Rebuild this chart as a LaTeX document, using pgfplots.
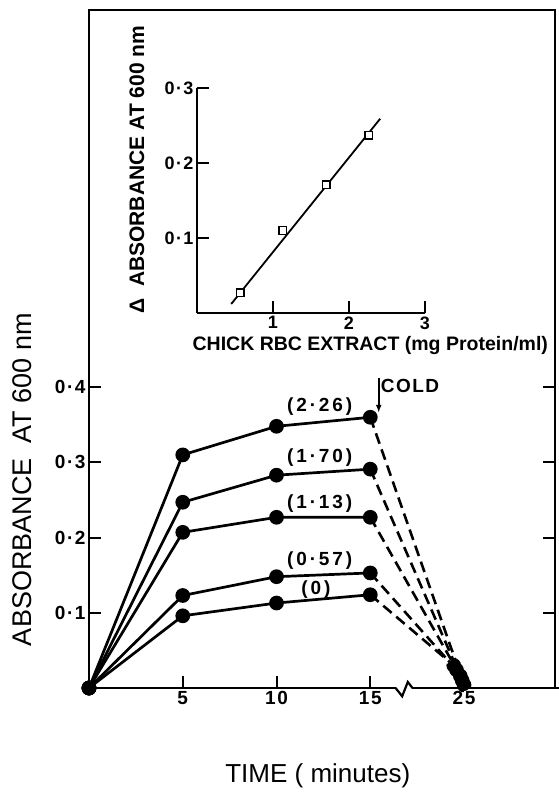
\documentclass[border=0pt]{standalone}
\usepackage{fontspec}
\setmainfont{Liberation Sans}
\newfontfamily\spc{Liberation Sans}[LetterSpace=15]
\newfontfamily\tck{Liberation Sans}[LetterSpace=8]
\usepackage{pgfplots}
\usepackage{pgfplotstable}
\pgfplotsset{compat=1.18}
\usetikzlibrary{arrows.meta}

% absorbance during incubation; time 25 min is drawn at position 20 (broken axis)
\pgfplotstableread{
t   a0    a057  a113  a170  a226
0   0     0     0     0     0
5   0.096 0.123 0.207 0.247 0.310
10  0.113 0.148 0.227 0.283 0.348
15  0.124 0.153 0.227 0.291 0.360
}\incub

\begin{document}
\begin{tikzpicture}
\path[use as bounding box] (-89pt,-104pt) rectangle (469pt,688pt);

\begin{axis}[
    at={(0pt,0pt)}, anchor=south west,
    scale only axis, width=466pt, height=678pt,
    xmin=0, xmax=24.85, ymin=0, ymax=0.9016,
    axis line style={line width=2.2pt},
    tick style={line width=2pt, black},
    major tick length=12pt,
    tick align=inside,
    xtick={5,10,15,20}, xticklabels={5,10,15,25},
    ytick={0.1,0.2,0.3,0.4}, yticklabels={0·1,0·2,0·3,0·4},
    xtick pos=bottom, ytick pos=both, yticklabel pos=left,
    tick label style={font=\fontsize{19}{19}\selectfont\bfseries\tck},
    clip=false,
]
\addplot[line width=2.7pt, mark=*, mark size=6pt] table[x=t, y=a226] {\incub};
\addplot[line width=2.7pt, mark=*, mark size=6pt] table[x=t, y=a170] {\incub};
\addplot[line width=2.7pt, mark=*, mark size=6pt] table[x=t, y=a113] {\incub};
\addplot[line width=2.7pt, mark=*, mark size=6pt] table[x=t, y=a057] {\incub};
\addplot[line width=2.7pt, mark=*, mark size=6pt] table[x=t, y=a0] {\incub};

% after cold
\addplot[line width=2.6pt, dash pattern=on 11pt off 6pt, mark=*, mark size=6pt, mark indices={2}] coordinates {(15,0.360) (20,0.004)};
\addplot[line width=2.6pt, dash pattern=on 11pt off 6pt, mark=*, mark size=6pt, mark indices={2}] coordinates {(15,0.291) (19.9,0.010)};
\addplot[line width=2.6pt, dash pattern=on 11pt off 6pt, mark=*, mark size=6pt, mark indices={2}] coordinates {(15,0.227) (19.8,0.016)};
\addplot[line width=2.6pt, dash pattern=on 11pt off 6pt, mark=*, mark size=6pt, mark indices={2}] coordinates {(15,0.153) (19.6,0.024)};
\addplot[line width=2.6pt, dash pattern=on 11pt off 6pt, mark=*, mark size=6pt, mark indices={2}] coordinates {(15,0.124) (19.45,0.030)};

\begin{scope}[font=\fontsize{19}{19}\selectfont\bfseries\spc]
\node at (axis cs:12.3,0.374) {(2·26)};
\node at (axis cs:12.3,0.306) {(1·70)};
\node at (axis cs:12.3,0.245) {(1·13)};
\node at (axis cs:12.3,0.170) {(0·57)};
\node at (axis cs:12.1,0.131) {(0)};
\end{scope}
\node[anchor=west, inner sep=0pt, font=\fontsize{19}{19}\selectfont\bfseries\tck] at (axis cs:15.55,0.401) {COLD};
\draw[line width=1.8pt, -{Latex[length=8pt,width=6pt]}] (axis cs:15.45,0.412) -- (axis cs:15.45,0.366);

% axis break and extension
\fill[white] (axis cs:16.35,-0.004) rectangle (axis cs:17.25,0.004);
\draw[line width=2.2pt] (axis cs:16.35,0) -- (axis cs:16.7,-0.011) -- (axis cs:17.0,0.008) -- (axis cs:17.25,0);
\draw[line width=2.2pt] (axis cs:24.8,0) -- (axis cs:25.1,0);

\node[rotate=90, font=\fontsize{27}{27}\selectfont] at (axis cs:-3.55,0.277) {ABSORBANCE\ \ AT 600 nm};
\node[font=\fontsize{26}{26}\selectfont] at (axis cs:12.2,-0.117) {TIME ( minutes)};
\end{axis}

% inset
\begin{axis}[
    at={(108pt,375pt)}, anchor=south west,
    scale only axis, width=228pt, height=225pt,
    xmin=0, xmax=3, ymin=0, ymax=0.3,
    axis lines=left,
    axis line style={-, line width=2pt},
    tick style={line width=1.8pt, black},
    major tick length=12pt,
    tick align=inside,
    xtick={1,2,3}, xticklabels={1,2,3},
    ytick={0.1,0.2,0.3}, yticklabels={0·1,0·2,0·3},
    tick label style={font=\fontsize{18}{18}\selectfont\bfseries\tck},
    clip=false,
]
\addplot[line width=1.8pt] coordinates {(0.45,0.012) (2.41,0.259)};
\addplot[only marks, mark=square*, mark size=3.8pt, mark options={fill=white, draw=black, line width=1.4pt}]
    coordinates {(0.57,0.027) (1.13,0.110) (1.70,0.171) (2.26,0.237)};
\node[rotate=90, font=\fontsize{21}{21}\selectfont\bfseries] at (axis cs:-0.79,0.191) {Δ\ \ ABSORBANCE AT 600 nm};
\node[font=\fontsize{19.5}{19.5}\selectfont\bfseries] at (axis cs:2.28,-0.044) {CHICK RBC EXTRACT (mg Protein/ml)};
\end{axis}
\end{tikzpicture}
\end{document}
